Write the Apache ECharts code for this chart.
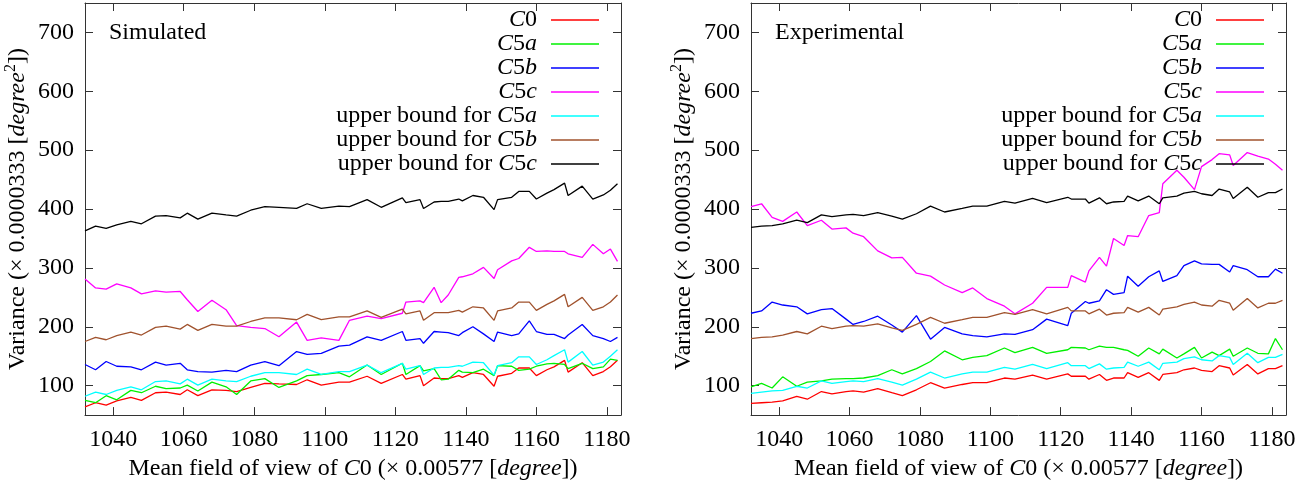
<!DOCTYPE html>
<html>
<head>
<meta charset="utf-8">
<script src="https://cdn.jsdelivr.net/npm/echarts@6/dist/echarts.min.js"></script>
<style>
  html, body { margin: 0; padding: 0; background: #fff; }
  #chart { width: 1309px; height: 486px; }
</style>
</head>
<body>
<div id="chart"></div>
<script>
// mean field of view of C0, shared by both panels
const fov = [1032, 1035, 1038, 1041, 1045, 1048, 1052, 1055, 1059, 1061,
  1064, 1068, 1072, 1075, 1079, 1083, 1087, 1092, 1095, 1099,
  1104, 1107, 1112, 1116, 1122, 1123, 1127, 1128, 1131, 1133,
  1135, 1138, 1139, 1142, 1145, 1148, 1149, 1153, 1155, 1158,
  1160, 1163, 1165, 1168, 1169, 1173, 1176, 1179, 1181, 1183];

const xTicks = [1040, 1060, 1080, 1100, 1120, 1140, 1160, 1180];
const yTicks = [100, 200, 300, 400, 500, 600, 700];

const names = ['C0', 'C5a', 'C5b', 'C5c',
  'upper bound for C5a', 'upper bound for C5b', 'upper bound for C5c'];
const colors = ['#ff0000', '#00f000', '#0000ff', '#ff00ff', '#00ffff', '#a0522d', '#000000'];

// Simulated
const simC0 = [64, 71, 67, 74, 80, 75, 88, 89, 85, 93,
  83, 93, 92, 90, 97, 104, 103, 102, 110, 101,
  106, 106, 116, 104, 119, 111, 117, 100, 113, 112,
  112, 117, 114, 122, 119, 99, 116, 121, 130, 130,
  117, 127, 132, 143, 123, 139, 117, 124, 132, 143];
const simC5a = [75, 71, 83, 76, 92, 88, 99, 95, 96, 101,
  91, 106, 98, 85, 108, 112, 97, 108, 117, 119,
  122, 115, 135, 119, 138, 119, 134, 125, 129, 110,
  111, 126, 123, 122, 128, 117, 134, 133, 126, 128,
  133, 137, 138, 136, 129, 138, 129, 132, 145, 143];
const simC5b = [136, 127, 141, 133, 132, 127, 140, 135, 138, 127,
  124, 123, 126, 124, 135, 141, 134, 158, 153, 155,
  167, 169, 183, 177, 192, 177, 180, 172, 192, 191,
  190, 185, 190, 200, 188, 175, 191, 185, 188, 210,
  192, 187, 187, 180, 186, 204, 185, 180, 175, 182];
const simC5c = [281, 266, 264, 273, 266, 256, 261, 259, 260, 246,
  226, 245, 229, 202, 199, 197, 183, 208, 177, 181,
  177, 211, 218, 214, 223, 242, 244, 241, 267, 241,
  254, 284, 285, 290, 301, 282, 297, 312, 316, 335,
  328, 329, 328, 328, 324, 318, 340, 324, 332, 311];
const simUbC5a = [82, 89, 85, 92, 98, 93, 107, 108, 103, 111,
  101, 111, 108, 107, 116, 122, 122, 119, 128, 119,
  124, 124, 135, 122, 138, 128, 134, 119, 130, 131,
  131, 134, 133, 140, 139, 118, 134, 139, 149, 149,
  136, 144, 151, 161, 140, 158, 135, 140, 150, 161];
const simUbC5b = [175, 182, 178, 185, 191, 186, 199, 201, 196, 204,
  194, 204, 201, 201, 209, 215, 215, 212, 221, 212,
  217, 217, 227, 216, 230, 222, 227, 211, 224, 224,
  224, 228, 225, 234, 232, 211, 227, 232, 242, 242,
  228, 238, 244, 255, 234, 250, 228, 234, 242, 254];
const simUbC5c = [363, 371, 367, 373, 379, 375, 388, 389, 385, 393,
  383, 393, 390, 388, 398, 404, 403, 401, 409, 401,
  405, 404, 416, 403, 419, 411, 416, 401, 412, 413,
  413, 417, 414, 423, 420, 399, 416, 420, 430, 430,
  417, 427, 433, 444, 423, 439, 417, 424, 432, 443];

// Experimental
const expC0 = [70, 71, 72, 74, 82, 77, 90, 86, 90, 91,
  89, 95, 88, 83, 93, 105, 96, 102, 105, 105,
  113, 111, 118, 111, 120, 116, 116, 111, 119, 109,
  113, 113, 122, 114, 122, 109, 119, 122, 127, 130,
  126, 124, 134, 130, 118, 136, 120, 129, 129, 134];
const expC5a = [98, 104, 96, 115, 99, 106, 108, 111, 112, 112,
  113, 117, 127, 120, 129, 141, 159, 144, 148, 151,
  164, 156, 165, 155, 161, 165, 164, 161, 167, 165,
  165, 161, 160, 150, 164, 154, 162, 147, 154, 165,
  147, 157, 151, 162, 150, 164, 155, 154, 180, 161];
const expC5b = [223, 227, 242, 237, 234, 222, 229, 231, 213, 204,
  209, 218, 203, 191, 219, 179, 199, 188, 185, 183,
  188, 187, 195, 213, 202, 223, 243, 240, 244, 263,
  255, 258, 286, 269, 285, 295, 277, 287, 304, 312,
  307, 306, 306, 293, 304, 297, 285, 285, 298, 291];
const expC5c = [404, 409, 386, 379, 395, 372, 381, 366, 368, 359,
  353, 329, 317, 318, 291, 286, 271, 258, 266, 248,
  235, 222, 240, 267, 267, 287, 276, 295, 318, 303,
  350, 338, 355, 353, 389, 394, 443, 466, 454, 433,
  472, 484, 494, 492, 474, 496, 490, 485, 476, 466];
const expUbC5a = [87, 89, 91, 92, 99, 96, 108, 104, 107, 108,
  107, 112, 106, 101, 111, 123, 113, 120, 123, 123,
  131, 128, 136, 129, 139, 134, 134, 129, 137, 128,
  130, 131, 140, 133, 140, 127, 138, 140, 146, 149,
  144, 142, 151, 148, 136, 155, 139, 148, 148, 153];
const expUbC5b = [180, 182, 183, 186, 192, 188, 201, 197, 201, 202,
  201, 205, 198, 194, 204, 216, 206, 212, 216, 216,
  224, 221, 229, 222, 233, 227, 227, 222, 230, 220,
  223, 224, 233, 225, 233, 220, 230, 234, 238, 242,
  237, 235, 245, 240, 228, 248, 232, 240, 240, 245];
const expUbC5c = [369, 371, 372, 375, 381, 377, 390, 387, 390, 391,
  389, 394, 388, 383, 392, 405, 395, 401, 405, 405,
  413, 410, 418, 411, 420, 417, 417, 410, 419, 409,
  412, 413, 422, 414, 422, 409, 419, 422, 427, 430,
  426, 423, 434, 429, 418, 437, 420, 428, 428, 434];

const simData = [simC0, simC5a, simC5b, simC5c, simUbC5a, simUbC5b, simUbC5c];
const expData = [expC0, expC5a, expC5b, expC5c, expUbC5a, expUbC5b, expUbC5c];

const FONT = '"Liberation Serif", "Times New Roman", Times, serif';
const INK = '#000';
const AXIS = '#333';

const italic = { fontFamily: FONT, fontSize: 24, fontStyle: 'italic', color: INK };

function legendLabel(name) {
  return name.replace(/C(\d)([abc]?)/, (m, d, l) => '{i|C}' + d + (l ? '{i|' + l + '}' : '')) + '{g| }';
}

function xAxisFor(gridIndex, top) {
  return {
    type: 'value', gridIndex, position: top ? 'top' : 'bottom',
    min: 1032, max: 1184,
    axisLine: { show: true, onZero: false, lineStyle: { color: AXIS, width: 1 } },
    axisTick: { show: true, inside: true, length: 8, customValues: xTicks, lineStyle: { color: AXIS } },
    axisLabel: { show: !top, customValues: xTicks, margin: 13, fontFamily: FONT, fontSize: 24, color: INK,
      formatter: v => String(v) },
    splitLine: { show: false },
    name: top ? '' : 'Mean field of view of {i|C}0 (× 0.00577 [{i|degree}])',
    nameLocation: 'middle', nameGap: 38,
    nameTextStyle: { fontFamily: FONT, fontSize: 24, color: INK, rich: { i: italic } }
  };
}

function yAxisFor(gridIndex, right) {
  return {
    type: 'value', gridIndex, position: right ? 'right' : 'left',
    min: 50, max: 750,
    axisLine: { show: true, onZero: false, lineStyle: { color: AXIS, width: 1 } },
    axisTick: { show: true, inside: true, length: 8, customValues: yTicks, lineStyle: { color: AXIS } },
    axisLabel: { show: !right, customValues: yTicks, margin: 11, fontFamily: FONT, fontSize: 24, color: INK,
      formatter: v => String(v) },
    splitLine: { show: false },
    name: right ? '' : 'Variance (× 0.0000333 [{i|degree}{s|2}])',
    nameLocation: 'middle', nameRotate: 90, nameGap: 52,
    nameTextStyle: {
      fontFamily: FONT, fontSize: 24, color: INK, lineHeight: 30,
      rich: {
        i: Object.assign({ lineHeight: 30 }, italic),
        s: { fontFamily: FONT, fontSize: 16, color: INK, verticalAlign: 'top', lineHeight: 16 }
      }
    }
  };
}

function legendFor(right) {
  return {
    orient: 'vertical', align: 'right', right, top: 8, padding: 0,
    itemWidth: 48, itemHeight: 1.3, itemGap: 0, icon: 'rect',
    data: names,
    formatter: legendLabel,
    textStyle: {
      fontFamily: FONT, fontSize: 24, lineHeight: 18, color: INK,
      rich: {
        i: Object.assign({ lineHeight: 18 }, italic),
        g: { width: 9, lineHeight: 18 }
      }
    }
  };
}

function panelSeries(data, axisIndex) {
  return data.map((vals, k) => ({
    name: names[k], type: 'line',
    xAxisIndex: axisIndex, yAxisIndex: axisIndex,
    data: fov.map((x, i) => [x, vals[i]]),
    showSymbol: false, symbol: 'none',
    lineStyle: { color: colors[k], width: 1.3 },
    itemStyle: { color: colors[k] },
    emphasis: { disabled: true }
  }));
}

const option = {
  animation: false,
  backgroundColor: '#fff',
  title: [
    { text: 'Simulated', left: 109, top: 21, padding: 0,
      textStyle: { fontFamily: FONT, fontSize: 24, fontWeight: 'normal', color: INK } },
    { text: 'Experimental', left: 775, top: 21, padding: 0,
      textStyle: { fontFamily: FONT, fontSize: 24, fontWeight: 'normal', color: INK } }
  ],
  grid: [
    { left: 85, top: 3, width: 536, height: 422 },
    { left: 751, top: 3, width: 535, height: 422 }
  ],
  xAxis: [xAxisFor(0, false), xAxisFor(0, true), xAxisFor(1, false), xAxisFor(1, true)],
  yAxis: [yAxisFor(0, false), yAxisFor(0, true), yAxisFor(1, false), yAxisFor(1, true)],
  legend: [legendFor(1309 - 599), legendFor(1309 - 1264)],
  series: panelSeries(simData, 0).concat(panelSeries(expData, 2))
};

const chart = echarts.init(document.getElementById('chart'), null, { renderer: 'canvas' });
chart.setOption(option);
</script>
</body>
</html>
